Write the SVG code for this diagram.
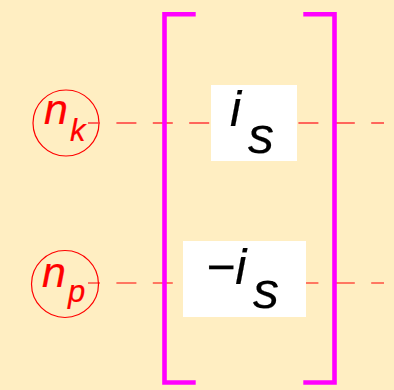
<svg xmlns="http://www.w3.org/2000/svg" width="394" height="390" viewBox="0 0 394 390">
<style>
.node{fill:none;stroke:#ff0000;stroke-width:1.2}
.nt{font-family:"Liberation Sans",Arial,sans-serif;font-style:italic;fill:#ff0000;stroke:#ff0000;stroke-width:0.2}
.mt{font-family:"Liberation Sans",Arial,sans-serif;font-style:italic;fill:#000000;stroke:#000000;stroke-width:0.2}
.dash{stroke-width:1.5;stroke-dasharray:20 16.4;fill:none}
.br{fill:none;stroke:#ff00ff;stroke-width:4.6;stroke-linejoin:miter;stroke-linecap:butt}
.box{fill:#ffffff}
</style>
<rect width="394" height="390" fill="#ffeec2"/>
<g id="nk">
<circle class="node" cx="66" cy="123" r="33"/>
<text class="nt" x="44" y="124" font-size="43">n</text>
<text class="nt" x="70" y="141" font-size="31">k</text>
</g>
<g id="np">
<circle class="node" cx="65" cy="284" r="33.5"/>
<text class="nt" x="42" y="287" font-size="43">n</text>
<text class="nt" x="68" y="302" font-size="31">p</text>
</g>
<g id="connectors">
<line class="dash" x1="88" y1="123" x2="384" y2="123" stroke="#ff3a3a" stroke-dashoffset="8"/>
<line class="dash" x1="88" y1="283" x2="384" y2="283" stroke="#ff0000" stroke-dashoffset="8" style="stroke-width:1.2"/>
</g>
<g id="bracket-left"><path class="br" d="M195.7,14.2 H164.5 V382.5 H195.7"/></g>
<g id="bracket-right"><path class="br" d="M303.3,14.2 H334.5 V382.5 H303.3"/></g>
<g id="is">
<rect class="box" x="211" y="85" width="86" height="76"/>
<text class="mt" x="230" y="126" font-size="50">i</text>
<text class="mt" x="248" y="153" font-size="52">s</text>
</g>
<g id="minus-is">
<rect class="box" x="183" y="241" width="123" height="76"/>
<text class="mt" x="206" y="284" font-size="50">−i</text>
<text class="mt" x="253" y="308" font-size="52">s</text>
</g>
</svg>
